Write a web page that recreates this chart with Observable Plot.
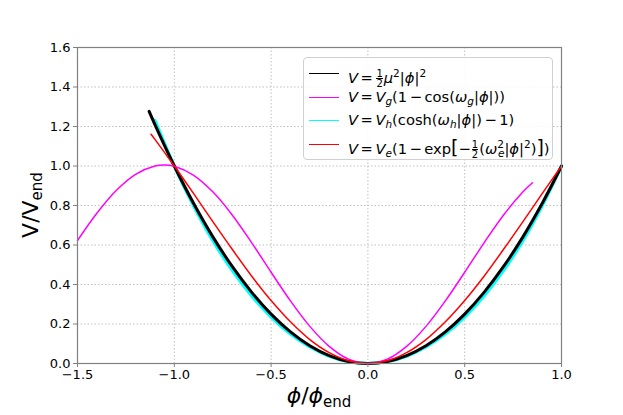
<!DOCTYPE html>
<html><head><meta charset="utf-8">
<script src="https://cdn.jsdelivr.net/npm/d3@7"></script>
<script src="https://cdn.jsdelivr.net/npm/@observablehq/plot@0.6"></script>
<style>
body{margin:0;background:#fff;}
#wrap{position:relative;width:623px;height:415px;font-family:"DejaVu Sans",sans-serif;color:#000;}
#wrap svg{position:absolute;left:0;top:0;}
.lab{position:absolute;white-space:nowrap;font-size:22px;line-height:1;}
.lab sub{font-size:15px;vertical-align:-4px;}
#legend{position:absolute;left:303px;top:57px;width:250px;height:103px;box-sizing:border-box;border:1px solid #d0d0d0;border-radius:4px;background:rgba(255,255,255,0.85);font-size:14.7px;}
.row{position:absolute;left:0;height:22px;white-space:nowrap;}
.sw{position:absolute;left:5px;top:11px;width:30px;height:0;border-top:1.5px solid;}
.tx{position:absolute;left:44px;top:2px;line-height:18px;}
.tx sub{font-size:10.5px;vertical-align:-3px;}
.tx sup{font-size:10.5px;vertical-align:6px;}
.op{margin:0 2.5px;}
.frac{display:inline-flex;flex-direction:column;font-size:10px;line-height:9px;vertical-align:6px;text-align:center;margin:0 1px;}
.frac span:first-child{border-bottom:1px solid #000;line-height:8px;}
.big{font-size:19px;line-height:14px;}
i{font-style:italic;}
</style></head><body><div id="wrap"></div>
<script>
// Data
const quadPhi = [-1.13,-1.1,-1.0,-0.9,-0.8,-0.7,-0.6,-0.5,-0.4,-0.3,-0.2,-0.1,0,0.1,0.2,0.3,0.4,0.5,0.6,0.7,0.8,0.9,1.0];
const quadV   = [1.277,1.21,1.0,0.81,0.64,0.49,0.36,0.25,0.16,0.09,0.04,0.01,0,0.01,0.04,0.09,0.16,0.25,0.36,0.49,0.64,0.81,1.0];
const cosPhi  = [-1.5,-1.4,-1.3,-1.2,-1.1,-1.05,-1.0,-0.9,-0.8,-0.7,-0.6,-0.5,-0.4,-0.3,-0.2,-0.1,0,0.1,0.2,0.3,0.4,0.5,0.6,0.7,0.8,0.85];
const cosV    = [0.623,0.761,0.876,0.958,1.000,1.005,0.999,0.953,0.868,0.751,0.611,0.462,0.317,0.188,0.087,0.022,0,0.022,0.087,0.188,0.317,0.462,0.611,0.751,0.868,0.915];
const coshPhi = [-1.1,-1.0,-0.9,-0.8,-0.7,-0.6,-0.5,-0.4,-0.3,-0.2,-0.1,0,0.1,0.2,0.3,0.4,0.5,0.6,0.7,0.8,0.9,1.0];
const coshV   = [1.231,1.0,0.798,0.621,0.470,0.342,0.235,0.149,0.084,0.037,0.009,0,0.009,0.037,0.084,0.149,0.235,0.342,0.470,0.621,0.798,1.0];
const expPhi  = [-1.12,-1.1,-1.0,-0.9,-0.8,-0.7,-0.6,-0.5,-0.4,-0.3,-0.2,-0.1,0,0.1,0.2,0.3,0.4,0.5,0.6,0.7,0.8,0.9,1.0];
const expV    = [1.161,1.135,1.0,0.860,0.717,0.577,0.442,0.319,0.211,0.121,0.055,0.014,0,0.014,0.055,0.121,0.211,0.319,0.442,0.577,0.717,0.860,1.0];
const xTicks = [-1.5,-1.0,-0.5,0.0,0.5,1.0];
const yTicks = [0.0,0.2,0.4,0.6,0.8,1.0,1.2,1.4,1.6];

const toRows = (xs, ys) => xs.map((x, i) => ({phi: x, v: ys[i]}));
const quad = toRows(quadPhi, quadV), cosd = toRows(cosPhi, cosV),
      coshd = toRows(coshPhi, coshV), expd = toRows(expPhi, expV);

const fmt = d3.format(".1f");
const chart = Plot.plot({
  width: 623, height: 415,
  marginLeft: 77, marginRight: 62, marginTop: 47, marginBottom: 52,
  x: {domain: [-1.5, 1.0]},
  y: {domain: [0, 1.6]},
  style: {fontFamily: "DejaVu Sans", fontSize: "13px", color: "#000", background: "transparent"},
  marks: [
    Plot.gridX(xTicks, {stroke: "#b0b0b0", strokeOpacity: 1, strokeWidth: 0.8, strokeDasharray: "1.5,2"}),
    Plot.gridY(yTicks, {stroke: "#b0b0b0", strokeOpacity: 1, strokeWidth: 0.8, strokeDasharray: "1.5,2"}),
    Plot.line(coshd, {x: "phi", y: "v", stroke: "#00ffff", strokeWidth: 3.2, curve: "catmull-rom"}),
    Plot.line(quad, {x: "phi", y: "v", stroke: "#000000", strokeWidth: 3, curve: "catmull-rom"}),
    Plot.line(cosd, {x: "phi", y: "v", stroke: "#ff00ff", strokeWidth: 1.5, curve: "catmull-rom"}),
    Plot.line(expd, {x: "phi", y: "v", stroke: "#ff0000", strokeWidth: 1.5, curve: "catmull-rom"}),
    Plot.frame({stroke: "#808080", strokeWidth: 1.2}),
    Plot.axisX({ticks: xTicks, tickFormat: fmt, tickSize: 4, tickPadding: 2, stroke: "#808080", label: null, fontSize: 13}),
    Plot.axisY({ticks: yTicks, tickFormat: fmt, tickSize: 4, tickPadding: 3, stroke: "#808080", label: null, fontSize: 13})
  ]
});
const wrap = document.getElementById("wrap");
wrap.appendChild(chart);

const half = `<span class="frac"><span>1</span><span>2</span></span>`;
wrap.insertAdjacentHTML("beforeend", `
<div class="lab" id="ylab" style="left:32px;top:205px;transform:translate(-50%,-50%) rotate(-90deg);">V/V<sub>end</sub></div>
<div class="lab" id="xlab" style="left:319px;top:397px;transform:translate(-50%,-50%);"><i>ϕ</i>/<i>ϕ</i><sub>end</sub></div>
<div id="legend">
  <div class="row" style="top:4px"><div class="sw" style="border-color:#000"></div><div class="tx"><i>V</i><span class="op">=</span>${half}<i>μ</i><sup>2</sup>|<i>ϕ</i>|<sup>2</sup></div></div>
  <div class="row" style="top:28px"><div class="sw" style="border-color:#ff00ff"></div><div class="tx"><i>V</i><span class="op">=</span><i>V</i><sub><i>g</i></sub>(1<span class="op">−</span>cos(<i>ω</i><sub><i>g</i></sub>|<i>ϕ</i>|))</div></div>
  <div class="row" style="top:51px"><div class="sw" style="border-color:#00ffff"></div><div class="tx"><i>V</i><span class="op">=</span><i>V</i><sub><i>h</i></sub>(cosh(<i>ω</i><sub><i>h</i></sub>|<i>ϕ</i>|)<span class="op">−</span>1)</div></div>
  <div class="row" style="top:75px"><div class="sw" style="border-color:#ff0000"></div><div class="tx"><i>V</i><span class="op">=</span><i>V</i><sub><i>e</i></sub>(1<span class="op">−</span>exp<span class="big">[</span>−${half}(<i>ω</i><sup>2</sup><sub style="margin-left:-6px"><i>e</i></sub>|<i>ϕ</i>|<sup>2</sup>)<span class="big">]</span>)</div></div>
</div>`);
</script>
</body></html>
